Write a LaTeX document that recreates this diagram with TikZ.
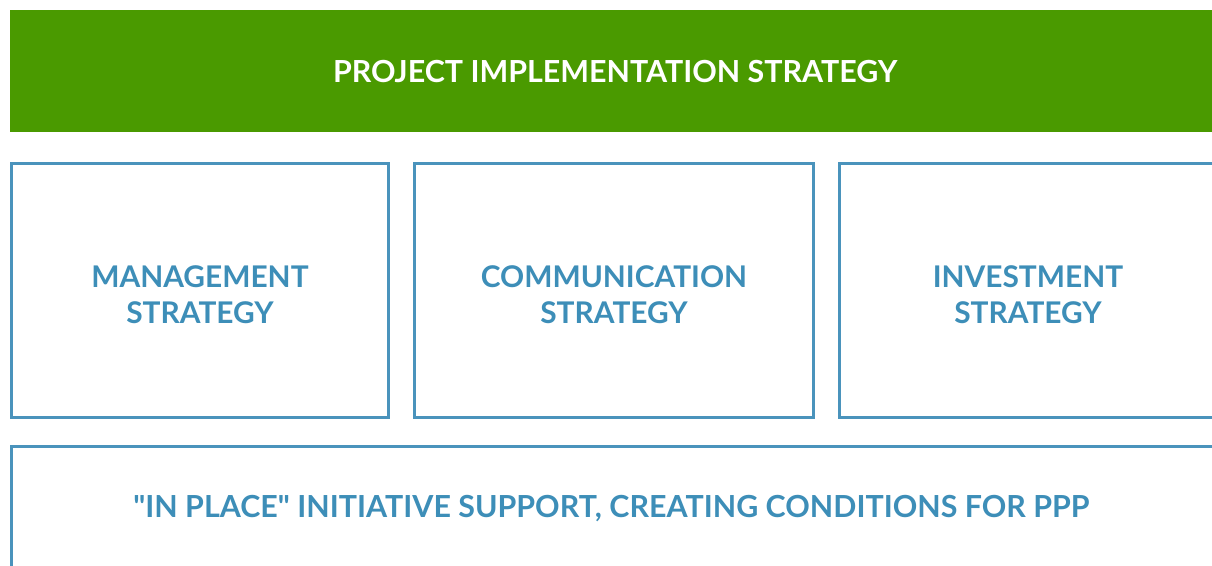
\documentclass[tikz,border=0pt]{standalone}
\usepackage{fontspec}
\setmainfont{Lato}[UprightFont=* Bold, Ligatures=TeXOff]
\usetikzlibrary{positioning}
\definecolor{barGreen}{HTML}{4A9A00}
\definecolor{lineBlue}{HTML}{4A93BC}
\definecolor{textBlue}{HTML}{3D8EB8}
\tikzset{
  title bar/.style={fill=barGreen, text=white, anchor=north west,
    minimum width=24.2cm, minimum height=2.44cm, inner sep=0pt, font=\fontsize{17.3}{20}\selectfont},
  strat box/.style={draw=lineBlue, line width=1.7pt, anchor=north west,
    minimum height=5.08cm, inner sep=0pt},
  strat text/.style={text=textBlue, align=center, inner sep=0pt, yshift=-0.08cm,
    font=\fontsize{17}{20.5}\selectfont},
}
\begin{document}
\begin{tikzpicture}[x=0.02cm,y=-0.02cm]
  \useasboundingbox[fill=white] (0,0) rectangle (1212,565);

  \node[title bar] (top) at (10,10) {PROJECT IMPLEMENTATION STRATEGY};

  % three strategy boxes
  \node[strat box, minimum width=7.54cm] (mgmt) at (10,162) {};
  \node[strat box, minimum width=7.98cm] (comm) at (413,162) {};
  \node[strat box, minimum width=7.54cm] (inv) at (838,162) {};
  \node[strat text] (mgmtText) at (mgmt.center) {MANAGEMENT\\STRATEGY};
  \node[strat text] (commText) at (comm.center) {COMMUNICATION\\STRATEGY};
  \node[strat text] (invText) at (inv.center) {INVESTMENT\\STRATEGY};

  % base row
  \node[strat box, minimum width=24.2cm, minimum height=2.5cm] (base) at (10,445) {};
  \node[strat text, yshift=0.08cm, xshift=-0.1cm, font=\fontsize{17.3}{20}\selectfont] (baseText) at (base.center)
    {"IN PLACE" INITIATIVE SUPPORT, CREATING CONDITIONS FOR PPP};
\end{tikzpicture}
\end{document}
